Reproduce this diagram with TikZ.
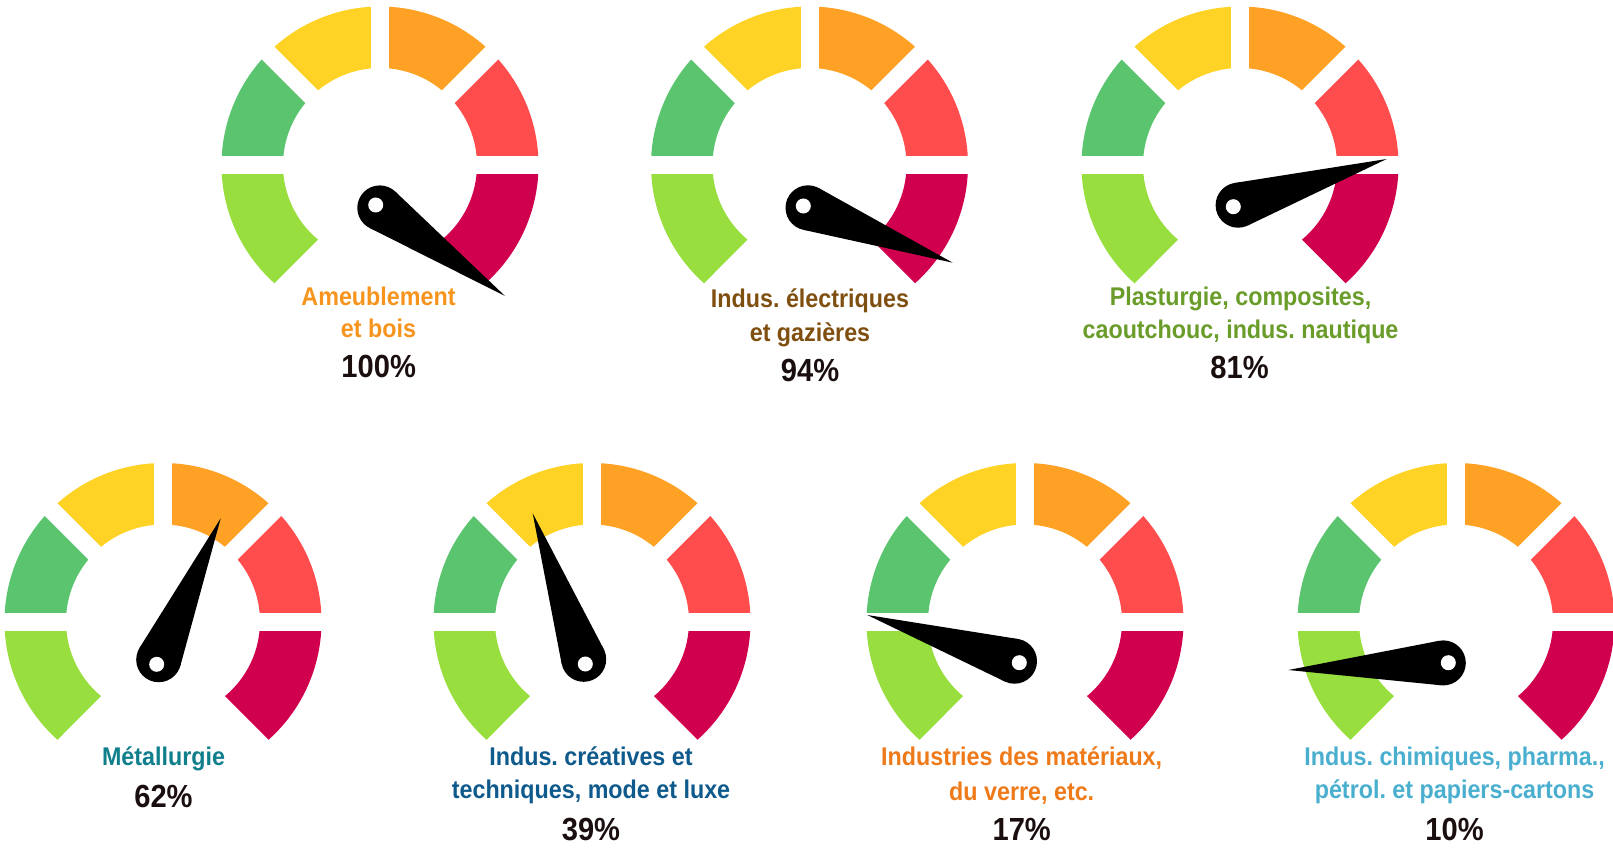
\documentclass[tikz,border=0pt]{standalone}
\usepackage{fontspec}
\setmainfont{Liberation Sans}[FakeStretch=0.91]
\usetikzlibrary{calc}
\definecolor{cLG}{RGB}{152,222,62}
\definecolor{cG}{RGB}{91,196,111}
\definecolor{cY}{RGB}{254,211,38}
\definecolor{cO}{RGB}{254,161,37}
\definecolor{cR}{RGB}{255,77,77}
\definecolor{cC}{RGB}{209,0,79}
\definecolor{tAmeub}{RGB}{247,148,29}
\definecolor{tElec}{RGB}{127,79,16}
\definecolor{tPlast}{RGB}{106,156,42}
\definecolor{tMetal}{RGB}{16,127,140}
\definecolor{tCrea}{RGB}{15,90,140}
\definecolor{tMat}{RGB}{238,122,26}
\definecolor{tChim}{RGB}{74,175,207}
\definecolor{pctc}{RGB}{26,14,14}
% segment: colour, inner start, inner end, outer start, outer end
\newcommand\gseg[5]{\fill[#1] (#2:97pt) arc[start angle=#2, end angle=#3, radius=97pt] -- (#5:158.5pt) arc[start angle=#5, end angle=#4, radius=158.5pt] -- cycle;}
\newcommand\drawneedle[4]{%
  \node[hub] (#1hub) at (#2) {};
  \coordinate (#1tip) at (#4);
  \fill[black] (tangent cs:node=#1hub,point={(#1tip)},solution=1) -- (#1tip) -- (tangent cs:node=#1hub,point={(#1tip)},solution=2) -- cycle;
  \node[hole] (#1hole) at (#3) {};
}
\tikzset{
  pics/gauge/.style={code={
    \gseg{cLG}{180}{230.32}{180}{228.26}
    \gseg{cG}{135}{180}{135}{180}
    \gseg{cY}{90}{135}{90}{135}
    \gseg{cO}{45}{90}{45}{90}
    \gseg{cR}{0}{45}{0}{45}
    \gseg{cC}{-50.32}{0}{-48.26}{0}
    \draw[white, line width=18pt] (180:166pt) -- (0:166pt);
    \draw[white, line width=18pt] (90:166pt) -- (0,0);
    \draw[white, line width=18pt] (135:166pt) -- (0,0);
    \draw[white, line width=18pt] (45:166pt) -- (0,0);
  }},
  hub/.style={circle, fill=black, minimum size=45pt, inner sep=0pt, outer sep=0pt},
  hole/.style={circle, fill=white, minimum size=15pt, inner sep=0pt, outer sep=0pt},
  lbl/.style={font=\fontsize{25.6}{30}\selectfont\bfseries\frenchspacing, anchor=base, inner sep=0pt},
  pct/.style={font=\fontsize{32}{36}\selectfont\bfseries, anchor=base, inner sep=0pt, text=pctc},
}
\begin{document}
\begin{tikzpicture}[x=1pt,y=-1pt]
\useasboundingbox (0,0) rectangle (1613,850);
% gauges
\pic (g1) at (380,165) {gauge};
\pic (g2) at (809.5,165) {gauge};
\pic (g3) at (1240,165) {gauge};
\pic (g4) at (163,621.5) {gauge};
\pic (g5) at (592,621.5) {gauge};
\pic (g6) at (1025,621.5) {gauge};
\pic (g7) at (1456,621.5) {gauge};
% needles
\drawneedle{n1}{379.8,207.9}{375.7,205}{505,296}
\drawneedle{n2}{808,207.8}{803.3,206}{952.7,262.7}
\drawneedle{n3}{1238.1,205.2}{1233.3,206.7}{1386.7,159}
\drawneedle{n4}{158.7,659.7}{156.7,664.3}{220.7,518.3}
\drawneedle{n5}{583.7,659.3}{585.3,664}{532.7,513.3}
\drawneedle{n6}{1014.5,661.2}{1019.3,662.7}{867.3,615}
\drawneedle{n7}{1443.3,662.9}{1448.3,662.7}{1288.3,670}
% labels
\node[lbl, text=tAmeub] (l1a) at (378.5,305) {Ameublement};
\node[lbl, text=tAmeub] (l1b) at (378.5,337) {et bois};
\node[pct] (p1) at (378.7,377) {100\%};
\node[lbl, text=tElec] (l2a) at (810,307) {Indus. électriques};
\node[lbl, text=tElec] (l2b) at (810,341.5) {et gazières};
\node[pct] (p2) at (810,381.5) {94\%};
\node[lbl, text=tPlast] (l3a) at (1240.5,305) {Plasturgie, composites,};
\node[lbl, text=tPlast] (l3b) at (1240.5,338) {caoutchouc, indus. nautique};
\node[pct] (p3) at (1239.5,378) {81\%};
\node[lbl, text=tMetal] (l4a) at (163.5,765) {Métallurgie};
\node[pct] (p4) at (163.5,807) {62\%};
\node[lbl, text=tCrea] (l5a) at (591,765) {Indus. créatives et};
\node[lbl, text=tCrea] (l5b) at (591,798.3) {techniques, mode et luxe};
\node[pct] (p5) at (591,840) {39\%};
\node[lbl, text=tMat] (l6a) at (1021.7,765) {Industries des matériaux,};
\node[lbl, text=tMat] (l6b) at (1021.7,800) {du verre, etc.};
\node[pct] (p6) at (1021.7,840) {17\%};
\node[lbl, text=tChim] (l7a) at (1454.6,765) {Indus. chimiques, pharma.,};
\node[lbl, text=tChim] (l7b) at (1454.6,798.3) {pétrol. et papiers-cartons};
\node[pct] (p7) at (1454.6,840) {10\%};
\end{tikzpicture}
\end{document}
